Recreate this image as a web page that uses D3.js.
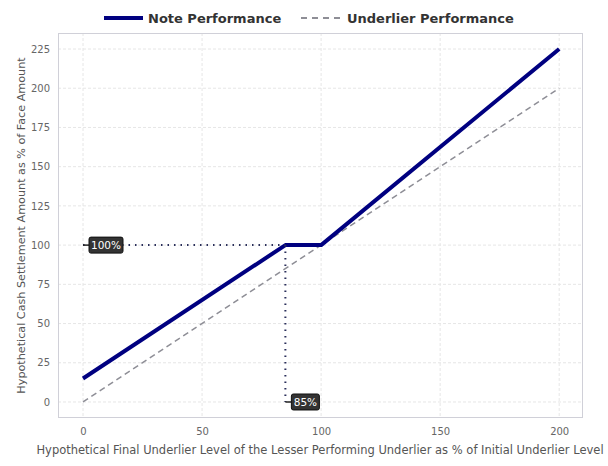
<!DOCTYPE html>
<html><head><meta charset="utf-8">
<script src="https://cdn.jsdelivr.net/npm/d3@7"></script>
<style>body{margin:0;background:#fff;font-family:"DejaVu Sans",sans-serif;}</style>
</head><body><svg id="c" width="608" height="466"></svg>
<script>
const noteX = [0, 85, 100, 200];
const noteY = [15, 100, 100, 225];
const underX = [0, 200];
const underY = [0, 200];
const xTicks = [0, 50, 100, 150, 200];
const yTicks = [0, 25, 50, 75, 100, 125, 150, 175, 200, 225];
const barrierLevel = 85;
const parLevel = 100;
const seriesNames = ["Note Performance", "Underlier Performance"];

const svg = d3.select("#c");
const L = 58, R = 583, T = 33, B = 418;
const x = d3.scaleLinear().domain([-10.5, 210]).range([L, R]);
const y = d3.scaleLinear().domain([-10.2, 235.2]).range([B, T]);

const g = svg.append("g");
g.selectAll(".gx").data(xTicks).enter().append("line")
  .attr("x1", d => x(d)).attr("x2", d => x(d)).attr("y1", T).attr("y2", B)
  .attr("stroke", "#e6e6e6").attr("stroke-dasharray", "3,2").attr("stroke-width", 1);
g.selectAll(".gy").data(yTicks).enter().append("line")
  .attr("y1", d => y(d)).attr("y2", d => y(d)).attr("x1", L).attr("x2", R)
  .attr("stroke", "#e6e6e6").attr("stroke-dasharray", "3,2").attr("stroke-width", 1);
g.append("rect").attr("x", L + 0.5).attr("y", T + 0.5).attr("width", R - L - 1).attr("height", B - T - 1)
  .attr("fill", "none").attr("stroke", "#d0d0d8");

const xAxis = d3.axisBottom(x).tickValues(xTicks).tickSize(0).tickPadding(10);
const yAxis = d3.axisLeft(y).tickValues(yTicks).tickSize(0).tickPadding(8);
const ax = svg.append("g").attr("transform", `translate(0,${B})`).call(xAxis);
const ay = svg.append("g").attr("transform", `translate(${L},0)`).call(yAxis);
[ax, ay].forEach(a => {
  a.select(".domain").remove();
  a.selectAll("text").attr("fill", "#666").style("font-size", "10px").style("font-family", "DejaVu Sans");
});

const line = d3.line().x(d => x(d[0])).y(d => y(d[1]));
svg.append("path").datum(underX.map((v, i) => [v, underY[i]])).attr("d", line)
  .attr("fill", "none").attr("stroke", "#8e8e96").attr("stroke-width", 1.5).attr("stroke-dasharray", "6,4");
svg.append("path").datum(noteX.map((v, i) => [v, noteY[i]])).attr("d", line)
  .attr("fill", "none").attr("stroke", "#000080").attr("stroke-width", 4).attr("stroke-linejoin", "round");

svg.append("line").attr("x1", x(0)).attr("x2", x(barrierLevel)).attr("y1", y(parLevel)).attr("y2", y(parLevel))
  .attr("stroke", "#2a2f5a").attr("stroke-width", 2).attr("stroke-dasharray", "1.5,5");
svg.append("line").attr("x1", x(barrierLevel)).attr("x2", x(barrierLevel)).attr("y1", y(parLevel)).attr("y2", y(0))
  .attr("stroke", "#2a2f5a").attr("stroke-width", 2).attr("stroke-dasharray", "1.5,5");

function badge(px, py, text, w) {
  svg.append("line").attr("x1", px).attr("x2", px + 6).attr("y1", py).attr("y2", py).attr("stroke", "#222").attr("stroke-width", 1.5);
  svg.append("rect").attr("x", px + 6).attr("y", py - 8).attr("width", w).attr("height", 16).attr("rx", 2)
    .attr("fill", "#333").attr("stroke", "#111");
  svg.append("text").attr("x", px + 6 + w / 2).attr("y", py + 4).attr("text-anchor", "middle")
    .attr("fill", "#fff").style("font-size", "10.5px").text(text);
}
badge(x(0), y(parLevel), "100%", 34);
badge(x(barrierLevel), y(0), "85%", 28);

svg.append("text").attr("x", 320).attr("y", 454).attr("text-anchor", "middle")
  .attr("fill", "#555").style("font-size", "11.5px")
  .text("Hypothetical Final Underlier Level of the Lesser Performing Underlier as % of Initial Underlier Level");
svg.append("text").attr("transform", "translate(25,225.5) rotate(-90)").attr("text-anchor", "middle")
  .attr("fill", "#555").style("font-size", "11.2px")
  .text("Hypothetical Cash Settlement Amount as % of Face Amount");

const lg = svg.append("g");
lg.append("line").attr("x1", 104).attr("x2", 143).attr("y1", 18).attr("y2", 18).attr("stroke", "#000080").attr("stroke-width", 4);
lg.append("text").attr("x", 148).attr("y", 23).attr("fill", "#333").style("font-size", "13px").style("font-weight", "bold").text(seriesNames[0]);
lg.append("line").attr("x1", 301).attr("x2", 340).attr("y1", 18).attr("y2", 18).attr("stroke", "#8e8e96").attr("stroke-width", 2).attr("stroke-dasharray", "6,5");
lg.append("text").attr("x", 347).attr("y", 23).attr("fill", "#333").style("font-size", "13px").style("font-weight", "bold").text(seriesNames[1]);
</script></body></html>
